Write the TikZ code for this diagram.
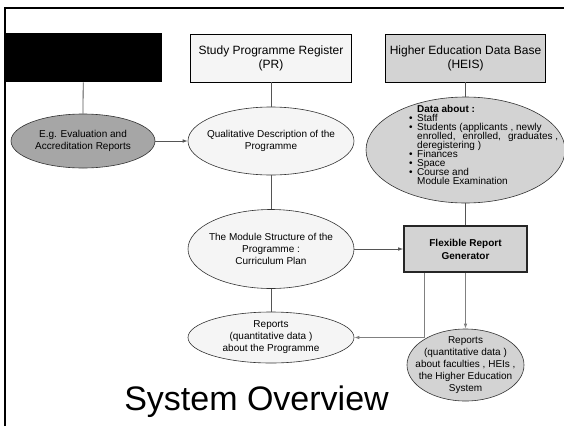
\documentclass[tikz,border=0pt]{standalone}
\usepackage{fontspec}
\setmainfont{Liberation Sans}
\usetikzlibrary{arrows.meta,shapes.geometric}
\definecolor{lightfill}{HTML}{F5F5F5}
\definecolor{midfill}{HTML}{D3D3D3}
\definecolor{darkfill}{HTML}{A6A6A6}
\definecolor{linecol}{HTML}{555555}
\definecolor{linecolb}{HTML}{808080}
\begin{document}
\begin{tikzpicture}[x=1pt,y=-1pt,
  box/.style={draw=black, line width=0.8pt, minimum width=161pt, minimum height=48pt,
    inner sep=0pt, font=\fontsize{12}{14}\selectfont, align=center},
  oval/.style={ellipse, draw=black!80, line width=0.6pt, inner sep=0pt},
  txt/.style={font=\fontsize{10}{12}\selectfont, align=center, inner sep=0pt},
  dtxt/.style={font=\fontsize{10}{12}\selectfont, inner sep=0pt, anchor=base west},
  conn/.style={draw=linecol, line width=0.8pt},
  connb/.style={draw=linecolb, line width=1pt},
  tip/.style={-{Latex[length=5pt,width=3.6pt]}}
]
\useasboundingbox (0,0) rectangle (564,426);
\fill[white] (0,0) rectangle (564,426);
% slide frame (top and left edges)
\draw[line width=2.5pt] (5,426) -- (5,8) -- (564,8);

% top row
\node[fill=black, minimum width=158pt, minimum height=49pt, inner sep=0pt, anchor=north west] (hidden) at (4,33) {};
\node[box, fill=lightfill] (spr) at (271,58) {Study Programme Register\\(PR)};
\node[box, fill=midfill, minimum width=160pt] (heis) at (465.5,58) {Higher Education Data Base\\(HEIS)};

% ellipses
\node[oval, fill=darkfill, minimum width=144pt, minimum height=54pt] (eg) at (83,141) {};
\node[txt] (egt) at (eg.center) {E.g. Evaluation and\\Accreditation Reports};

\node[oval, fill=lightfill, minimum width=166pt, minimum height=68pt] (qual) at (271,141) {};
\node[txt] (qualt) at (qual.center) {Qualitative Description of the\\Programme};

\node[oval, fill=midfill, minimum width=199pt, minimum height=106pt] (data) at (465.5,150) {};
\node[dtxt] (d1) at (417,112) {\textbf{Data about :}};
\node[dtxt] (d2) at (417,121.1) {\llap{\textbullet\hspace{4.5pt}}Staff};
\node[dtxt] (d3) at (417,130.2) {\llap{\textbullet\hspace{4.5pt}}Students (applicants , newly};
\node[dtxt] (d4) at (417,139.3) {\hbox to 141pt{enrolled,\hfill enrolled,\hfill graduates ,}};
\node[dtxt] (d5) at (417,148.4) {deregistering )};
\node[dtxt] (d6) at (417,157.5) {\llap{\textbullet\hspace{4.5pt}}Finances};
\node[dtxt] (d7) at (417,166.6) {\llap{\textbullet\hspace{4.5pt}}Space};
\node[dtxt] (d8) at (417,175.7) {\llap{\textbullet\hspace{4.5pt}}Course and};
\node[dtxt] (d9) at (417,184.8) {Module Examination};

\node[oval, fill=lightfill, minimum width=166pt, minimum height=79pt] (module) at (271,249) {};
\node[txt] (modt) at (module.center) {The Module Structure of the\\Programme :\\Curriculum Plan};

\node[oval, fill=lightfill, minimum width=166pt, minimum height=51pt] (rep1) at (271,337.5) {};
\node[txt] (rep1t) at (rep1.center) {Reports\\(quantitative data )\\about the Programme};

\node[draw=black!85, line width=1.6pt, fill=midfill, minimum width=123pt, minimum height=46pt,
  inner sep=0pt, font=\bfseries\fontsize{10}{13}\selectfont, align=center] (flex) at (465.5,249) {Flexible Report\\Generator};

\node[oval, fill=midfill, minimum width=117pt, minimum height=72pt] (rep2) at (465.5,365) {};
\node[txt, font=\fontsize{10}{11.8}\selectfont] (rep2t) at (rep2.center) {Reports\\(quantitative data )\\about faculties , HEIs ,\\the Higher Education\\System};

\node[font=\fontsize{34}{40}\selectfont, inner sep=0pt, anchor=base] (title) at (256.5,410.5) {System Overview};

% connectors
\draw[conn] (hidden.south) -- (eg.north);
\draw[conn] (spr.south) -- (qual.north);
\draw[conn] (qual.south) -- (module.north);
\draw[conn] (module.south) -- (rep1.north);
\draw[conn] (heis.south) -- (data.north);
\draw[conn] (data.south) -- (flex.north);
\draw[conn, tip] (eg) -- (qual);
\draw[conn, tip] (module) -- (flex);
\draw[connb, tip] (flex.south) -- (rep2.north);
\draw[connb, tip] ([xshift=-41.5pt]flex.south) |- (rep1.east);
\end{tikzpicture}
\end{document}
